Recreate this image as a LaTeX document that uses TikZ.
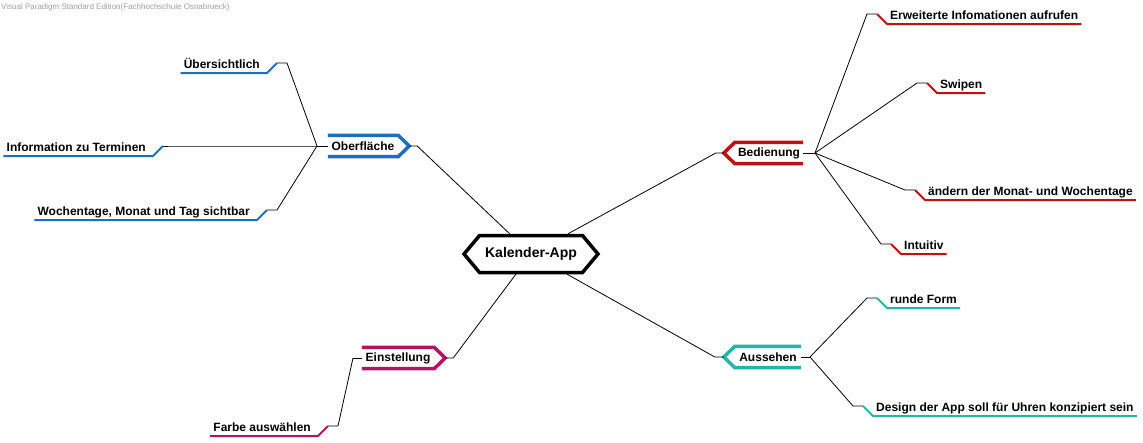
\documentclass[tikz,border=0pt]{standalone}
\usepackage{fontspec}
\setmainfont{Liberation Sans}
\usepackage{tikz}
\usetikzlibrary{positioning,shapes.symbols}
\usepackage{xcolor}
\definecolor{obBlue}{RGB}{28,109,196}
\definecolor{bdRed}{RGB}{192,16,16}
\definecolor{auTeal}{RGB}{32,182,170}
\definecolor{esPink}{RGB}{182,18,100}

\begin{document}
\begin{tikzpicture}[x=1pt, y=-1pt,
    every node/.style={font=\fontsize{12}{14}\selectfont\bfseries},
    conn/.style={black, line width=0.8pt},
    band/.style={line width=3.5pt},
    ul/.style={line width=2pt},
    branch/.style={minimum width=#1, minimum height=21pt, inner sep=0pt},
    leaf/.style={inner xsep=3pt, inner ysep=1pt, text height=9pt, text depth=3pt}]
    \useasboundingbox (0,0) rectangle (1143,442);

    % Wasserzeichen
    \node[anchor=west, inner sep=0pt, text=gray!75, font=\fontsize{8}{9}\selectfont] (wm) at (1,7)
        {Visual Paradigm Standard Edition(Fachhochschule Osnabrueck)};

    % Zentrum
    \node[signal, signal to=west and east, signal pointer angle=100, draw, line width=3.5pt,
        fill=white, minimum width=134pt, minimum height=37pt, inner sep=0pt,
        font=\fontsize{14}{16}\selectfont\bfseries] (app) at (531,254) {Kalender-App};

    % Hauptzweige
    \node[branch=70pt] (ob) at (363,146) {Oberfläche};
    \node[branch=68pt] (bd) at (769,153) {Bedienung};
    \node[branch=66pt] (au) at (768,357) {Aussehen};
    \node[branch=72pt] (es) at (398,358) {Einstellung};

    \coordinate (ob-tip) at ([xshift=11pt]ob.east);
    \coordinate (bd-tip) at ([xshift=-11pt]bd.west);
    \coordinate (au-tip) at ([xshift=-11pt]au.west);
    \coordinate (es-tip) at ([xshift=11pt]es.east);

    \draw[band, obBlue] (ob.north west) -- (ob.north east) -- (ob-tip) -- (ob.south east) -- (ob.south west);
    \draw[band, bdRed] (bd.north east) -- (bd.north west) -- (bd-tip) -- (bd.south west) -- (bd.south east);
    \draw[band, auTeal] (au.north east) -- (au.north west) -- (au-tip) -- (au.south west) -- (au.south east);
    \draw[band, esPink] (es.north west) -- (es.north east) -- (es-tip) -- (es.south east) -- (es.south west);

    % Verbindungen zum Zentrum
    \draw[conn] (ob-tip) -- ++(8,0) -- (app);
    \draw[conn] (bd-tip) -- ++(-8,0) -- (app);
    \draw[conn] (au-tip) -- ++(-9,0) -- (app);
    \draw[conn] (es-tip) -- ++(8,0) -- (app);

    % Verteilerpunkte
    \coordinate (ob-hub) at (317,146);
    \coordinate (bd-hub) at (815,153);
    \coordinate (au-hub) at (810,357);
    \coordinate (es-hub) at (353,358);
    \draw[conn] (ob-hub) -- (ob.west);
    \draw[conn] (bd.east) -- (bd-hub);
    \draw[conn] (au.east) -- (au-hub);
    \draw[conn] (es-hub) -- (es.west);

    % Unterpunkte Bedienung
    \foreach \nm/\pos/\txt in {erw/{887,24}/Erweiterte Infomationen aufrufen,
                               swp/{937,93}/Swipen,
                               aend/{925,200}/ändern der Monat- und Wochentage,
                               intu/{901,254}/Intuitiv} {
        \node[leaf, anchor=south west] (\nm) at (\pos) {\txt};
        \draw[conn] (bd-hub) -- ([shift={(-20,-10)}]\nm.south west) -- ++(10,0);
        \draw[ul, bdRed] ([shift={(-10,-10)}]\nm.south west) -- (\nm.south west) -- (\nm.south east);
    }

    % Unterpunkte Aussehen
    \foreach \nm/\pos/\txt in {rund/{887,308}/runde Form,
                               dsgn/{873,416}/Design der App soll für Uhren konzipiert sein} {
        \node[leaf, anchor=south west] (\nm) at (\pos) {\txt};
        \draw[conn] (au-hub) -- ([shift={(-20,-10)}]\nm.south west) -- ++(10,0);
        \draw[ul, auTeal] ([shift={(-10,-10)}]\nm.south west) -- (\nm.south west) -- (\nm.south east);
    }

    % Unterpunkte Oberfläche
    \foreach \nm/\pos/\txt in {ueb/{267,73}/Übersichtlich,
                               info/{153,156}/Information zu Terminen,
                               woch/{257,220}/{Wochentage, Monat und Tag sichtbar}} {
        \coordinate (\nm-k) at (\pos);
        \node[leaf, anchor=south east] (\nm) at ([xshift=-4pt]\nm-k) {\txt};
        \draw[conn] (ob-hub) -- ([shift={(20,-10)}]\nm-k) -- ++(-10,0);
        \draw[ul, obBlue] ([shift={(10,-10)}]\nm-k) -- (\nm-k) -- (\nm.south west);
    }

    % Unterpunkt Einstellung
    \coordinate (farb-k) at (318,436);
    \node[leaf, anchor=south east] (farb) at ([xshift=-4pt]farb-k) {Farbe auswählen};
    \draw[conn] (es-hub) -- ([shift={(20,-10)}]farb-k) -- ++(-10,0);
    \draw[ul, esPink] ([shift={(10,-10)}]farb-k) -- (farb-k) -- (farb.south west);
\end{tikzpicture}
\end{document}
